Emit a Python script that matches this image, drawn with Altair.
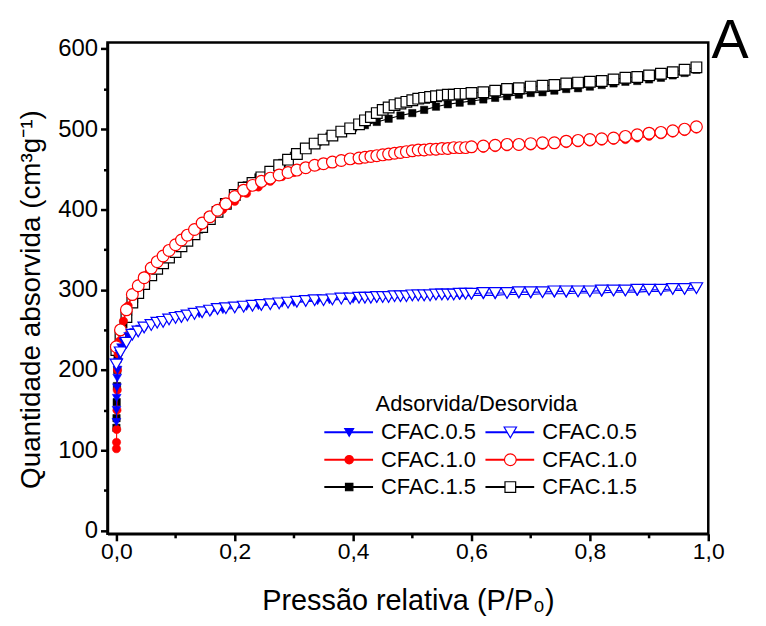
import altair as alt
import pandas as pd

# ---------------- data ----------------
ads_x = [0.0001, 0.0003, 0.0006, 0.001, 0.0015, 0.002, 0.003, 0.005, 0.008, 0.012,
         0.02, 0.03, 0.04, 0.05, 0.06,
         0.08, 0.10, 0.12, 0.14, 0.16, 0.18, 0.20, 0.22, 0.24, 0.26, 0.28, 0.30, 0.32, 0.34, 0.36, 0.38, 0.40,
         0.42, 0.44, 0.46, 0.48, 0.50, 0.52, 0.54, 0.56, 0.58, 0.60, 0.62, 0.64, 0.66, 0.68, 0.70, 0.72,
         0.74, 0.76, 0.78, 0.80, 0.82, 0.84, 0.86, 0.88, 0.90, 0.92, 0.94, 0.96, 0.98]

des_x = [0.0, 0.007, 0.017, 0.027, 0.037, 0.047, 0.059, 0.069, 0.079, 0.089,
         0.10, 0.11, 0.12, 0.132, 0.145, 0.158, 0.171, 0.185, 0.20, 0.215,
         0.23, 0.245, 0.26, 0.275, 0.29, 0.305, 0.32, 0.335, 0.35, 0.365,
         0.38, 0.395, 0.41,
         0.42, 0.43, 0.44, 0.45, 0.46, 0.47, 0.48, 0.49, 0.50, 0.51, 0.52, 0.53, 0.54, 0.55, 0.56, 0.57,
         0.58, 0.59, 0.60,
         0.62, 0.64, 0.66, 0.68, 0.70, 0.72, 0.74, 0.76, 0.78, 0.80, 0.82, 0.84, 0.86, 0.88, 0.90, 0.92,
         0.94, 0.96, 0.98]

red_ads = [102, 110, 126, 150, 175, 200, 220, 236, 249, 261,
           280, 297, 308, 318, 327,
           341, 354, 366, 378, 389, 400, 410, 420, 428, 435, 441, 446, 450, 454, 457, 460, 462,
           464, 466, 468, 469, 471, 472, 473, 474, 475, 476, 476, 477, 478, 479, 479, 480, 481, 482,
           483, 484, 485, 486, 487, 489, 491, 493, 495, 497, 500]
black_ads = [128, 140, 160, 180, 200, 214, 227, 239, 249, 257,
             272, 288, 300, 310, 318,
             333, 347, 361, 375, 390, 404, 418, 430, 440, 449, 458, 467, 476, 484, 491, 497, 502,
             505, 509, 513, 517, 520, 524, 528, 531, 533, 535, 537, 539, 541, 543, 545, 546, 548, 550,
             551, 553, 555, 557, 559, 560, 562, 564, 567, 570, 574]
blue_ads = [135, 150, 165, 178, 190, 200, 210, 220, 228, 235,
            242, 247, 251, 254, 257,
            261, 264, 267, 270, 273, 275, 277, 279, 280, 281, 283, 284, 285, 286, 287, 288, 288,
            289, 289, 290, 290, 291, 291, 292, 292, 292, 293, 293, 293, 294, 294, 294, 295, 295, 295,
            296, 296, 296, 297, 297, 297, 298, 298, 299, 299, 300]

red_des = [229, 250, 275, 294, 305, 315, 327, 335, 342, 349,
           356, 362, 368, 375, 383, 391, 399, 407, 416, 424,
           430, 435, 439, 443, 446, 449, 452, 455, 457, 459,
           461, 463, 464,
           465, 466, 467, 468, 469, 470, 471, 472, 473, 474, 474, 475, 475, 476, 476, 477, 477, 477, 478,
           479, 480, 481, 481, 482, 483, 483, 485, 486, 487, 488, 489, 491, 493, 495, 496, 498, 500, 503]
black_des = [225, 243, 266, 284, 296, 307, 318, 326, 333, 340,
             347, 354, 361, 369, 378, 388, 397, 407, 418, 427,
             433, 440, 447, 455, 462, 469, 476, 482, 487, 492,
             497, 501, 506,
             511, 515, 520, 524, 527, 530, 532, 534, 536, 538, 539, 540, 541, 542, 543, 543, 544, 544, 545,
             546, 548, 550, 551, 553, 554, 555, 557, 558, 559, 560, 562, 564, 565, 567, 569, 571, 574, 577]
blue_des = [207, 222, 234, 244, 248, 253, 256, 259, 260, 263,
            265, 266, 268, 270, 272, 274, 276, 277, 278, 279,
            280, 281, 282, 283, 284, 285, 286, 287, 287, 288,
            289, 289, 290,
            290, 290, 291, 291, 291, 292, 292, 292, 293, 293, 293, 293, 294, 294, 294, 294, 295, 295, 295,
            296, 296, 296, 297, 297, 297, 298, 298, 298, 298, 299, 299, 299, 300, 300, 300, 301, 301, 302]

samples = ["CFAC.0.5", "CFAC.1.0", "CFAC.1.5"]
x_ticks = [0.0, 0.2, 0.4, 0.6, 0.8, 1.0]
x_minor = [0.1, 0.3, 0.5, 0.7, 0.9]
y_ticks = [0, 100, 200, 300, 400, 500, 600]
y_minor = [50, 150, 250, 350, 450, 550]

# ---------------- styling ----------------
W, H = 604, 494
xscale = alt.Scale(domain=[-0.015, 1.0], nice=False, zero=False)
yscale = alt.Scale(domain=[-4, 608], nice=False, zero=False)
FONT = "Liberation Sans"

styles = {
    "CFAC.0.5": ("#0000FF", "triangle-down", blue_ads, blue_des),
    "CFAC.1.0": ("#FF0000", "circle", red_ads, red_des),
    "CFAC.1.5": ("#000000", "square", black_ads, black_des),
}
small = {"triangle-down": 80, "circle": 70, "square": 55}
big = {"triangle-down": 155, "circle": 140, "square": 115}

layers = []
for name in ["CFAC.1.5", "CFAC.1.0", "CFAC.0.5"]:
    color, shape, ya, yd = styles[name]
    for branch, xs, ys in (("ads", ads_x, ya), ("des", des_x, yd)):
        df = pd.DataFrame({"x": xs, "y": ys})
        enc = dict(x=alt.X("x:Q", scale=xscale, axis=None),
                   y=alt.Y("y:Q", scale=yscale, axis=None))
        line = alt.Chart(df).mark_line(color=color, strokeWidth=1.1).encode(
            order="x:Q", **enc)
        if branch == "ads":
            pts = alt.Chart(df).mark_point(shape=shape, filled=True, fill=color,
                                           stroke=color, strokeWidth=0.5,
                                           size=small[shape], opacity=1).encode(**enc)
        else:
            pts = alt.Chart(df).mark_point(shape=shape, filled=True, fill="white",
                                           stroke=color, strokeWidth=1.2,
                                           size=big[shape], opacity=1).encode(**enc)
        layers += [line, pts]

# axes (major and minor ticks)
axis_df = pd.DataFrame({"x": ads_x, "y": black_ads})
major = alt.Chart(axis_df).mark_point(opacity=0).encode(
    x=alt.X("x:Q", scale=xscale, title="Pressão relativa (P/P₀)",
            axis=alt.Axis(values=x_ticks, orient="bottom", labelFlush=False,
                          labelExpr="replace(format(datum.value, '.1f'), '.', ',')",
                          tickSize=7, tickWidth=2.5, domainWidth=2.5, domainColor="black",
                          tickColor="black", labelFont=FONT, labelFontSize=23,
                          labelColor="black", labelPadding=0, titleFont=FONT,
                          titleFontSize=29, titleFontWeight="normal", titleColor="black",
                          titlePadding=23, grid=False)),
    y=alt.Y("y:Q", scale=yscale, title="Quantidade absorvida (cm³g⁻¹)",
            axis=alt.Axis(values=y_ticks, orient="left", tickSize=7, tickWidth=2.5,
                          domainWidth=2.5, domainColor="black", tickColor="black",
                          labelFont=FONT, labelFontSize=24, labelColor="black",
                          labelPadding=3, titleFont=FONT, titleFontSize=28,
                          titleFontWeight="normal", titleColor="black", titlePadding=12,
                          titleY=258, grid=False)),
)
minor = alt.Chart(axis_df).mark_point(opacity=0).encode(
    x=alt.X("x:Q", scale=xscale, title=None,
            axis=alt.Axis(values=x_minor, orient="bottom", labels=False, domain=False,
                          tickSize=4, tickWidth=2.5, tickColor="black", grid=False)),
    y=alt.Y("y:Q", scale=yscale, title=None,
            axis=alt.Axis(values=y_minor, orient="left", labels=False, domain=False,
                          tickSize=4, tickWidth=2.5, tickColor="black", grid=False)),
)

# legend (drawn by hand, two columns)
leg_rows = []
for r, name in enumerate(samples):
    color, shape, _, _ = styles[name]
    for c, branch in enumerate(["ads", "des"]):
        x1 = 218 + c * 162
        leg_rows.append({
            "label": name, "x1": x1, "x2": x1 + 49, "xm": x1 + 25, "xt": x1 + 57,
            "y": 392 + r * 27.5, "color": color, "shape": shape,
            "fill": color if branch == "ads" else "white",
            "size": small[shape] if branch == "ads" else big[shape],
        })
leg = pd.DataFrame(leg_rows)
leg_line = alt.Chart(leg).mark_rule(strokeWidth=2).encode(
    x=alt.X("x1:Q", scale=None), x2="x2:Q", y=alt.Y("y:Q", scale=None),
    color=alt.Color("color:N", scale=None))
leg_pt = alt.Chart(leg).mark_point(filled=True, strokeWidth=1.2, opacity=1).encode(
    x=alt.X("xm:Q", scale=None), y=alt.Y("y:Q", scale=None),
    fill=alt.Fill("fill:N", scale=None), stroke=alt.Stroke("color:N", scale=None),
    shape=alt.Shape("shape:N", scale=None), size=alt.Size("size:Q", scale=None))
leg_txt = alt.Chart(leg).mark_text(align="left", baseline="middle", font=FONT,
                                   fontSize=22, color="black").encode(
    x=alt.X("xt:Q", scale=None), y=alt.Y("y:Q", scale=None), text="label:N")
leg_title = alt.Chart(pd.DataFrame({"t": ["Adsorvida/Desorvida"]})).mark_text(
    align="center", baseline="middle", font=FONT, fontSize=22, color="black").encode(
    x=alt.value(371), y=alt.value(364), text="t:N")
panel = alt.Chart(pd.DataFrame({"t": ["A"]})).mark_text(
    align="center", baseline="middle", font=FONT, fontSize=56, color="black").encode(
    x=alt.value(626), y=alt.value(-1), text="t:N")

chart = alt.layer(major, minor, *layers, leg_line, leg_pt, leg_txt, leg_title, panel).resolve_axis(
    x="independent", y="independent"
).properties(
    width=W, height=H,
    autosize=alt.AutoSizeParams(type="none"),
    padding={"left": 100, "top": 33, "right": 50, "bottom": 83},
).configure_view(stroke="black", strokeWidth=2.5)

chart.save("out.html", embed_options={"renderer": "svg", "actions": False})
